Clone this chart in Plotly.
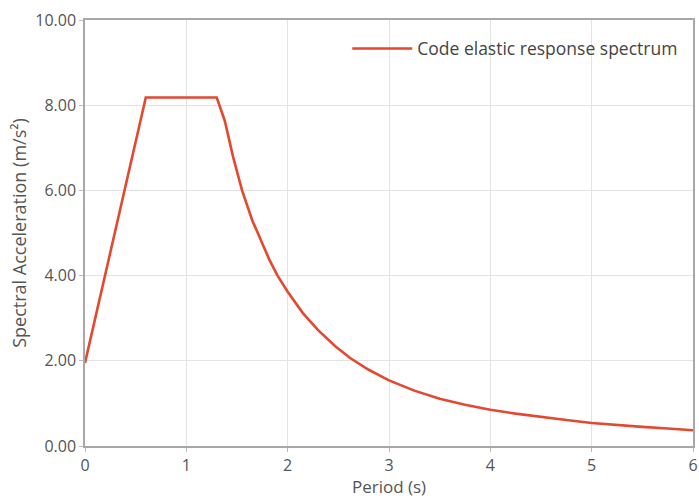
import plotly.graph_objects as go

period = [0, 0.6, 1.3, 1.38, 1.46, 1.55, 1.65, 1.75, 1.82, 1.9, 2.0, 2.15, 2.3, 2.47,
          2.62, 2.8, 2.9, 3.0, 3.25, 3.5, 3.75, 4.0, 4.25, 4.5, 4.75, 5.0, 5.25, 5.5,
          5.75, 6.0]
accel = [1.95, 8.18, 8.18, 7.63, 6.80, 6.00, 5.30, 4.75, 4.37, 4.00, 3.62, 3.12, 2.72,
         2.34, 2.06, 1.79, 1.66, 1.54, 1.30, 1.11, 0.97, 0.85, 0.76, 0.68, 0.61, 0.54,
         0.49, 0.45, 0.41, 0.37]

x_ticks = [0, 1, 2, 3, 4, 5, 6]
y_ticks = [0, 2, 4, 6, 8, 10]
y_tick_labels = ["0.00", "2.00", "4.00", "6.00", "8.00", "10.00"]

series_name = "Code elastic response spectrum"
x_title = "Period (s)"
y_title = "Spectral Acceleration (m/s²)"

FONT = "Open Sans"
TXT = "#555555"

fig = go.Figure()
fig.add_trace(go.Scatter(
    x=period, y=accel, mode="lines", name=series_name,
    line=dict(color="#e2492f", width=2.6),
))

axis_common = dict(
    showline=True, linecolor="#a8a8a8", linewidth=1.5, mirror=True,
    showgrid=True, gridcolor="#e3e3e3", gridwidth=1,
    zeroline=False, automargin=False, ticklabeloverflow="allow",
    ticks="outside", ticklen=4, tickcolor="#bbbbbb", tickwidth=1,
    tickfont=dict(family=FONT, size=16, color=TXT),
)

fig.update_layout(
    width=699, height=498,
    margin=dict(l=85, r=6, t=20, b=52),
    paper_bgcolor="white", plot_bgcolor="white",
    font=dict(family=FONT, color=TXT),
    showlegend=True,
    legend=dict(
        x=0.984, y=0.975, xanchor="right", yanchor="top",
        bgcolor="rgba(0,0,0,0)", borderwidth=0,
        font=dict(family=FONT, size=17.5, color="#444444"),
        itemwidth=60,
    ),
    xaxis=dict(
        range=[0, 6], tickvals=x_ticks,
        title=dict(text=x_title, font=dict(family=FONT, size=17, color=TXT), standoff=2),
        **axis_common,
    ),
    yaxis=dict(
        range=[0, 10], tickvals=y_ticks, ticktext=y_tick_labels,
        title=dict(text=y_title, font=dict(family=FONT, size=18, color=TXT), standoff=4),
        **axis_common,
    ),
)

fig.write_html(
    "out.html",
    config={"displayModeBar": False},
    post_script="document.body.style.margin='0';document.body.style.overflow='hidden';",
)
